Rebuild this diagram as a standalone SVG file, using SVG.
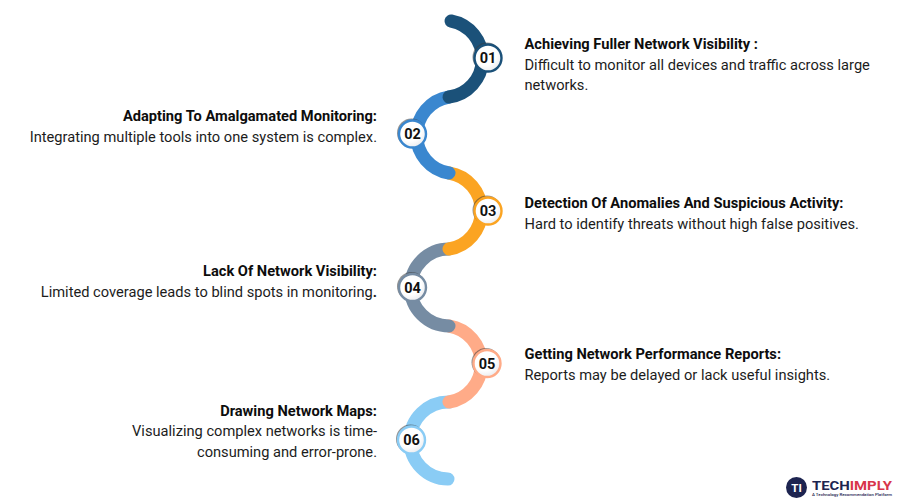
<svg xmlns="http://www.w3.org/2000/svg" width="900" height="500" viewBox="0 0 900 500">
<defs>
<radialGradient id="fill" cx="0.4" cy="0.35" r="0.75"><stop offset="0.55" stop-color="#ffffff"/><stop offset="1" stop-color="#e4e6ea"/></radialGradient>
</defs>
<style>
text{font-family:Roboto,"Liberation Sans",sans-serif;font-size:14.65px;fill:#1c1c1c}
.t{font-weight:700;fill:#0d0d0d}
.r{text-anchor:end}
.n{font-weight:700;font-size:14.500px;text-anchor:middle;fill:#111}
.arc{fill:none;stroke-width:13;stroke-linecap:round}
.c{fill:url(#fill);stroke-width:2.4}
.s{fill:#3a3a3a;fill-opacity:.55}
</style>
<rect width="900" height="500" fill="#ffffff"/>
<g id="connectors">
<path class="arc" stroke="#8accf5" d="M448 479A38.500 38.500 0 0 1 449 402"/>
<path class="arc" stroke="#ffab88" d="M449 402A38.500 38.500 0 0 0 449 326"/>
<path class="arc" stroke="#768ca3" d="M449 326A38.500 38.500 0 0 1 449 249"/>
<path class="arc" stroke="#fba422" d="M449 249A38.500 38.500 0 0 0 449 173"/>
<path class="arc" stroke="#3a87cf" d="M449 173A38.500 38.500 0 0 1 449 97"/>
<path class="arc" stroke="#1b5179" d="M449 97A38.500 38.500 0 0 0 451 21"/>
</g>
<g id="node-01"><circle class="s" cx="487" cy="57" r="14.500"/><circle class="c" cx="488" cy="58" r="13.500" stroke="#1b5179"/><text class="n" x="488" y="63">01</text>
<text class="t" x="524.500" y="49">Achieving Fuller Network Visibility :</text><text x="524.500" y="69.500">Difficult to monitor all devices and traffic across large</text><text x="524.500" y="90">networks.</text></g>
<g id="node-02"><circle class="s" cx="411.500" cy="133" r="14.500"/><circle class="c" cx="412.500" cy="134" r="13.500" stroke="#3a87cf"/><text class="n" x="412.500" y="139">02</text>
<text class="t r" x="377" y="121">Adapting To Amalgamated Monitoring:</text><text class="r" x="377" y="142">Integrating multiple tools into one system is complex.</text></g>
<g id="node-03"><circle class="s" cx="487" cy="210" r="14.500"/><circle class="c" cx="488" cy="211" r="13.500" stroke="#fba422"/><text class="n" x="488" y="216">03</text>
<text class="t" x="524.500" y="208">Detection Of Anomalies And Suspicious Activity:</text><text x="524.500" y="228.500">Hard to identify threats without high false positives.</text></g>
<g id="node-04"><circle class="s" cx="411.500" cy="286.500" r="14.500"/><circle class="c" cx="412.500" cy="287.500" r="13.500" stroke="#768ca3"/><text class="n" x="412.500" y="292.500">04</text>
<text class="t r" x="377" y="276">Lack Of Network Visibility:</text><text class="r" x="377" y="297">Limited coverage leads to blind spots in monitoring<tspan font-weight="700">.</tspan></text></g>
<g id="node-05"><circle class="s" cx="486" cy="362.500" r="14.500"/><circle class="c" cx="487" cy="363.500" r="13.500" stroke="#ffab88"/><text class="n" x="487" y="368.500">05</text>
<text class="t" x="524.500" y="359">Getting Network Performance Reports:</text><text x="524.500" y="380">Reports may be delayed or lack useful insights.</text></g>
<g id="node-06"><circle class="s" cx="410.500" cy="439" r="14.500"/><circle class="c" cx="411.500" cy="440" r="13.500" stroke="#8accf5"/><text class="n" x="411.500" y="445">06</text>
<text class="t r" x="377" y="416">Drawing Network Maps:</text><text class="r" x="377" y="436">Visualizing complex networks is time-</text><text class="r" x="377" y="456.500">consuming and error-prone.</text></g>
<g id="logo"><circle cx="796.500" cy="487.500" r="10.500" fill="#1d2450"/><text x="796.500" y="492" text-anchor="middle" style="font-size:11.500px;font-weight:700;fill:#fff">TI</text>
<text x="812" y="489.500" textLength="80" lengthAdjust="spacingAndGlyphs" style="font-size:13.500px;font-weight:700;fill:#1d2450">TECH<tspan fill="#d8354a">IMPLY</tspan></text>
<text x="812" y="496" textLength="80" lengthAdjust="spacingAndGlyphs" style="font-size:4.400px;font-weight:500;fill:#1d2450">A Technology Recommendation Platform</text></g>
</svg>
